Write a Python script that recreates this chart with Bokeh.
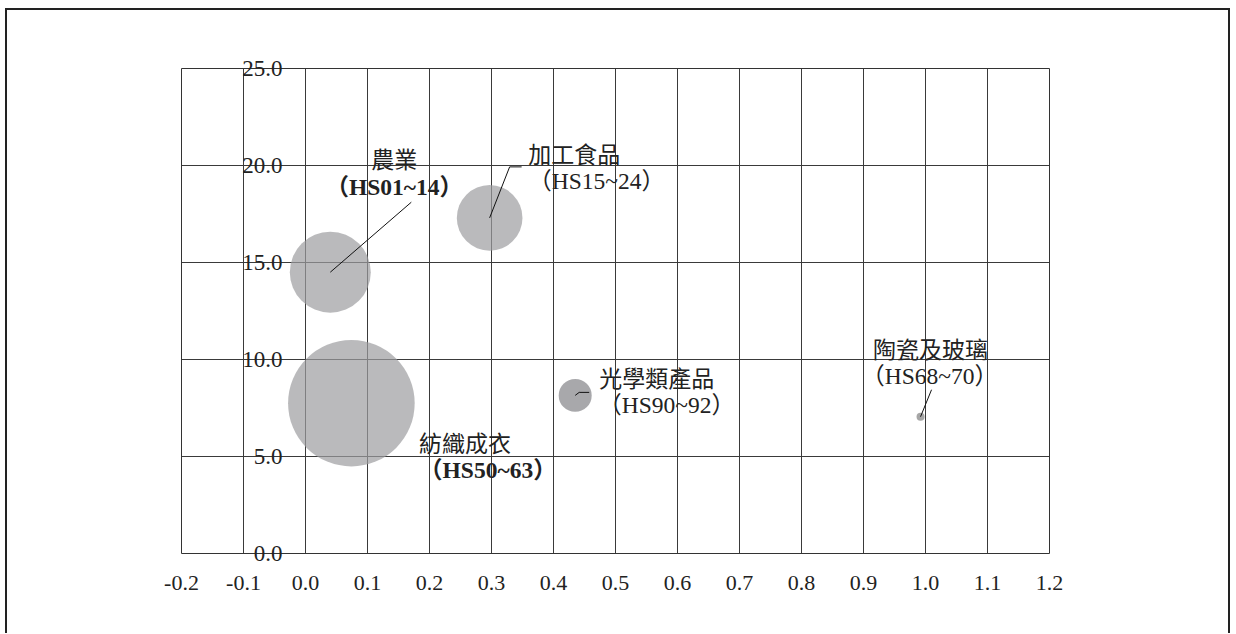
from bokeh.plotting import figure
from bokeh.models import ColumnDataSource, FixedTicker, NumeralTickFormatter, Range1d
from bokeh.core.properties import value
from bokeh.embed import file_html
from bokeh.resources import INLINE
import math

# ---------------- data ----------------
names = ["農業", "加工食品", "紡織成衣", "光學類產品", "陶瓷及玻璃"]
codes = ["（HS01~14）", "（HS15~24）", "（HS50~63）", "（HS90~92）", "（HS68~70）"]
x_vals = [0.040, 0.297, 0.074, 0.435, 0.992]
y_vals = [14.5, 17.3, 7.75, 8.15, 7.05]
bubble_vals = [40.9, 26.9, 100.0, 6.8, 0.4]
x_ticks = [-0.2, -0.1, 0.0, 0.1, 0.2, 0.3, 0.4, 0.5, 0.6, 0.7, 0.8, 0.9, 1.0, 1.1, 1.2]
y_ticks = [0.0, 5.0, 10.0, 15.0, 20.0, 25.0]

# ---------------- styles / layout ----------------
X0, X1 = -0.2, 1.2
Y0, Y1 = 0.0, 25.0
FRAME_W, FRAME_H = 868, 485
MAX_DIAM = 126.6
bubble_colors = ["#9c9ca0", "#9c9ca0", "#9c9ca0", "#838387", "#808080"]
code_bold = [True, False, True, False, False]
# label offsets in screen px relative to bubble centre (y downwards)
name_off = [(64, -114), (84.5, -65), (113.5, 39), (81.5, -18), (10, -69)]
code_off = [(64, -85), (107, -37), (136.5, 67), (91.5, 10), (9, -41)]
leader_off = [[(81, -70)], [(20, -51), (32, -51)], [], [(4, -3), (14, -3)], [(11, -27)]]

px_x = FRAME_W / (X1 - X0)
px_y = FRAME_H / (Y1 - Y0)

BL, BR, BT, BB = 174, 179, 58, 80

p = figure(frame_width=FRAME_W, frame_height=FRAME_H,
           x_range=Range1d(X0, X1), y_range=Range1d(Y0, Y1),
           min_border_left=BL, min_border_right=BR,
           min_border_top=BT, min_border_bottom=BB,
           output_backend="svg", toolbar_location=None)

p.styles = {"border-top": "2px solid #222", "border-left": "2px solid #222",
            "border-right": "2px solid #222",
            "margin-left": "5px", "margin-top": "8px"}

p.background_fill_color = "white"
p.border_fill_color = "white"
p.outline_line_color = "#333333"
p.outline_line_width = 1

# grid
p.xgrid.ticker = FixedTicker(ticks=x_ticks)
p.ygrid.ticker = FixedTicker(ticks=y_ticks)
for g in (p.xgrid, p.ygrid):
    g.grid_line_color = "#3a3a3a"
    g.grid_line_width = 1

# axes
p.xaxis.ticker = FixedTicker(ticks=x_ticks)
p.yaxis.ticker = FixedTicker(ticks=y_ticks)
p.xaxis.formatter = NumeralTickFormatter(format="0.0")
p.yaxis.formatter = NumeralTickFormatter(format="0.0")
for ax in (p.xaxis, p.yaxis):
    ax.axis_line_color = None
    ax.major_tick_line_color = None
    ax.minor_tick_line_color = None
    ax.major_tick_out = 0
    ax.major_tick_in = 0
    ax.major_label_text_font = "Liberation Serif"
    ax.major_label_text_font_size = "22px"
    ax.major_label_text_color = "#222222"
p.yaxis.major_label_text_font_size = "23px"
p.xaxis.major_label_standoff = 22
# y labels sit just left of x = 0, inside the frame
p.yaxis.major_label_standoff = -int(round((0 - X0) * px_x)) + 23

# bubbles
diam = [MAX_DIAM * math.sqrt(v / max(bubble_vals)) for v in bubble_vals]
src = ColumnDataSource(dict(x=x_vals, y=y_vals, d=diam, c=bubble_colors))
p.scatter("x", "y", size="d", marker="circle", fill_color="c", fill_alpha=0.7,
          line_color=None, source=src)

# leader lines
lxs, lys = [], []
for xv, yv, offs in zip(x_vals, y_vals, leader_off):
    if not offs:
        continue
    xs = [xv] + [xv + dx / px_x for dx, dy in offs]
    ys = [yv] + [yv - dy / px_y for dx, dy in offs]
    lxs.append(xs)
    lys.append(ys)
p.multi_line(lxs, lys, line_color="#111111", line_width=1)

# labels
name_src = ColumnDataSource(dict(x=x_vals, y=y_vals, t=names,
                                 dx=[o[0] for o in name_off],
                                 dy=[o[1] for o in name_off]))
p.text("x", "y", text="t", x_offset="dx", y_offset="dy", source=name_src,
       text_font=value("Noto Sans CJK TC"), text_font_size="23px",
       text_color="#222222", text_align="center", text_baseline="middle")

code_src = ColumnDataSource(dict(x=x_vals, y=y_vals, t=codes,
                                 dx=[o[0] for o in code_off],
                                 dy=[o[1] for o in code_off],
                                 fs=["bold" if b else "normal" for b in code_bold]))
p.text("x", "y", text="t", x_offset="dx", y_offset="dy", source=code_src,
       text_font=value("'Liberation Serif', 'Noto Sans CJK TC'"), text_font_size="23.5px",
       text_font_style="fs",
       text_color="#222222", text_align="center", text_baseline="middle")

open("out.html", "w").write(file_html(p, INLINE))
